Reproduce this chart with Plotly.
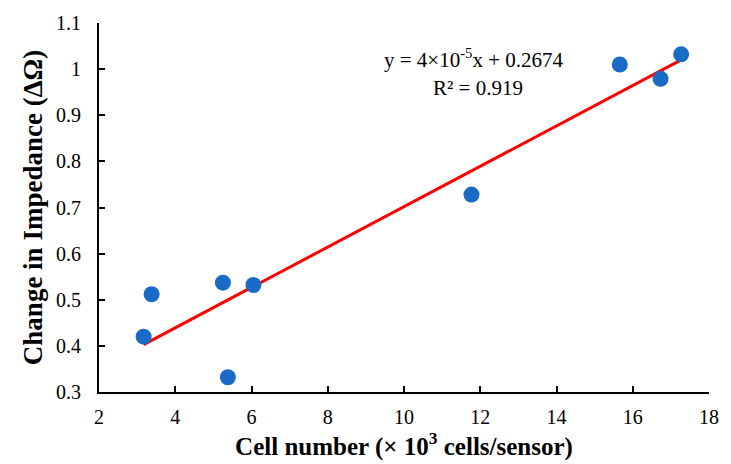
import numpy as np
import plotly.graph_objects as go

# Data (cell number in 10^3 cells/sensor, change in impedance in ΔΩ)
cell_number = [3.17, 3.38, 5.25, 5.38, 6.05, 11.77, 15.66, 16.73, 17.27]
impedance = [0.420, 0.512, 0.537, 0.332, 0.532, 0.728, 1.010, 0.979, 1.032]

x_ticks = [2, 4, 6, 8, 10, 12, 14, 16, 18]
y_ticks = [0.3, 0.4, 0.5, 0.6, 0.7, 0.8, 0.9, 1.0, 1.1]
y_tick_text = ["0.3", "0.4", "0.5", "0.6", "0.7", "0.8", "0.9", "1", "1.1"]

eq_text = "y = 4×10<sup>-5</sup>x + 0.2674"
r2_text = "R² = 0.919"

# Linear trendline fitted from the data
slope, intercept = np.polyfit(cell_number, impedance, 1)
fit_x = [min(cell_number), max(cell_number)]
fit_y = [slope * v + intercept for v in fit_x]

font_family = "Liberation Serif"

fig = go.Figure()
fig.add_trace(go.Scatter(
    x=fit_x, y=fit_y, mode="lines",
    line=dict(color="#ff0000", width=3),
    showlegend=False, hoverinfo="skip",
))
fig.add_trace(go.Scatter(
    x=cell_number, y=impedance, mode="markers",
    marker=dict(color="#1a6bc6", size=16, line=dict(width=0)),
    showlegend=False,
))

fig.update_layout(
    width=731, height=464,
    margin=dict(l=99, r=12, t=21, b=72),
    paper_bgcolor="white", plot_bgcolor="white",
    font=dict(family=font_family, color="black", size=20),
    xaxis=dict(
        range=[2, 18], tickvals=x_ticks, ticks="inside", ticklen=6, tickwidth=1.5,
        tickcolor="black", showline=True, linecolor="black", linewidth=2,
        showgrid=False, zeroline=False, ticklabelstandoff=6,
        tickfont=dict(size=20, family=font_family),
        title=dict(text="<b>Cell number (× 10<sup>3</sup> cells/sensor)</b>",
                   font=dict(size=25, family=font_family), standoff=4),
    ),
    yaxis=dict(
        range=[0.3, 1.1], tickvals=y_ticks, ticktext=y_tick_text, ticks="inside",
        ticklen=6, tickwidth=1.5, tickcolor="black", showline=True,
        linecolor="black", linewidth=2, showgrid=False, zeroline=False,
        ticklabelstandoff=12,
        tickfont=dict(size=20, family=font_family),
        title=dict(text="<b>Change in Impedance (ΔΩ)</b>",
                   font=dict(size=27, family=font_family), standoff=6),
    ),
    annotations=[
        dict(text=eq_text, xref="paper", yref="paper", x=0.615, y=0.905,
             showarrow=False, font=dict(size=21, family=font_family),
             xanchor="center", yanchor="middle"),
        dict(text=r2_text, xref="paper", yref="paper", x=0.621, y=0.825,
             showarrow=False, font=dict(size=21, family=font_family),
             xanchor="center", yanchor="middle"),
    ],
)

fig.write_html("out.html")
